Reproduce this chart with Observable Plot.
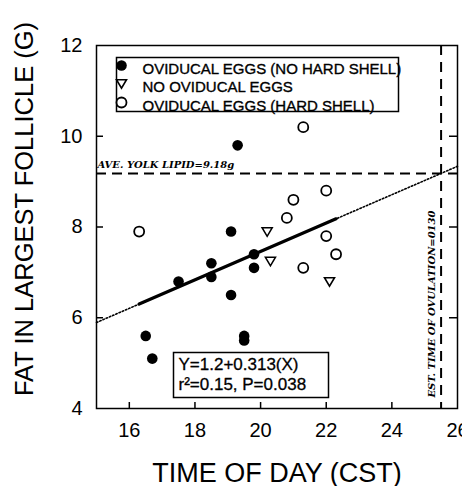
<!DOCTYPE html>
<html><head><meta charset="utf-8">
<script src="https://cdn.jsdelivr.net/npm/d3@7"></script>
<script src="https://cdn.jsdelivr.net/npm/@observablehq/plot@0.6"></script>
<style>html,body{margin:0;padding:0;overflow:hidden;background:#fff}</style>
</head><body><div id="chart"></div>
<script>
// Oviducal eggs (no hard shell) — filled circles
const noShellTime = [19.3, 19.1, 17.5, 18.5, 18.5, 19.1, 16.5, 16.7, 19.5, 19.5, 19.8, 19.8];
const noShellFat  = [9.8, 7.9, 6.8, 7.2, 6.9, 6.5, 5.6, 5.1, 5.6, 5.5, 7.4, 7.1];
// No oviducal eggs — open down-triangles
const noEggsTime = [20.2, 20.3, 22.1];
const noEggsFat  = [7.9, 7.25, 6.8];
// Oviducal eggs (hard shell) — open circles
const hardShellTime = [16.3, 21.3, 22.0, 21.0, 20.8, 22.0, 22.3, 21.3];
const hardShellFat  = [7.9, 10.2, 8.8, 8.6, 8.2, 7.8, 7.4, 7.1];

const legendLabels = ["OVIDUCAL EGGS (NO HARD SHELL)", "NO OVIDUCAL EGGS", "OVIDUCAL EGGS (HARD SHELL)"];
const equationLines = ["Y=1.2+0.313(X)", "r²=0.15, P=0.038"];
const intercept = 1.2, slope = 0.313;
const fitRange = [16.3, 22.3];   // solid part (data range)
const extRange = [15, 26];       // dotted extension
const yolkLipid = [9.18];
const ovulationTime = [25.5];
const xTicks = [16, 18, 20, 22, 24, 26];
const xTickMarks = [16, 18, 20, 22, 24];
const yTicks = [4, 6, 8, 10, 12];
const yTickMarks = [6, 8, 10];

const zip = (xs, ys) => xs.map((x, i) => ({x, y: ys[i]}));
const noShell = zip(noShellTime, noShellFat);
const noEggs = zip(noEggsTime, noEggsFat);
const hardShell = zip(hardShellTime, hardShellFat);
const fitLine = fitRange.map(x => ({x, y: intercept + slope * x}));
const extLine = extRange.map(x => ({x, y: intercept + slope * x}));

const downTriangle = {
  draw(context, size) {
    const s = Math.sqrt(size / Math.PI);
    context.moveTo(-s, -0.75 * s);
    context.lineTo(s, -0.75 * s);
    context.lineTo(0, 0.95 * s);
    context.closePath();
  }
};

const ML = 96, MR = 5, MT = 45, MB = 78, W = 462, H = 486;
const PW = W - ML - MR, PH = H - MT - MB;
const sans = "'Liberation Sans', Arial, Helvetica, sans-serif";
const serif = "'DejaVu Serif', 'Liberation Serif', serif";

const chart = Plot.plot({
  width: W, height: H,
  marginLeft: ML, marginRight: MR, marginTop: MT, marginBottom: MB,
  x: {domain: [15, 26]},
  y: {domain: [4, 12]},
  style: {fontFamily: sans, background: "white", color: "black", overflow: "visible"},
  marks: [
    // axes labels (tick labels only)
    Plot.axisX(xTicks, {tickSize: 0, tickPadding: 14, fontSize: 20, label: null}),
    Plot.axisY(yTicks, {tickSize: 0, tickPadding: 14, fontSize: 20, label: null}),
    // inward ticks
    Plot.ruleX(xTickMarks, {insetTop: PH - 6, strokeWidth: 1.5}),
    Plot.ruleY(yTickMarks, {insetRight: PW - 7, strokeWidth: 1.5}),
    Plot.ruleY(yTickMarks, {insetLeft: PW - 8, strokeWidth: 1.5}),
    // reference lines
    Plot.ruleY(yolkLipid, {strokeWidth: 2, strokeDasharray: "10,6"}),
    Plot.ruleX(ovulationTime, {strokeWidth: 2, strokeDasharray: "10,7"}),
    Plot.text(yolkLipid, {x: () => 15, y: d => d, text: d => `AVE. YOLK LIPID=${d}g`, textAnchor: "start", lineAnchor: "bottom", dx: 1, dy: -5, fontSize: 10, fontWeight: "bold", fontStyle: "italic", fontFamily: serif}),
    Plot.text(ovulationTime, {x: d => d, y: () => 4, text: () => "EST. TIME OF OVULATION=0130", rotate: -90, textAnchor: "start", lineAnchor: "bottom", dx: -6, dy: -11, fontSize: 10, fontWeight: "bold", fontStyle: "italic", fontFamily: serif}),
    // regression
    Plot.line(extLine, {x: "x", y: "y", strokeWidth: 1.6, strokeDasharray: "1.5,2"}),
    Plot.line(fitLine, {x: "x", y: "y", strokeWidth: 3.2}),
    // data
    Plot.dot(hardShell, {x: "x", y: "y", r: 5, symbol: "circle", stroke: "black", strokeWidth: 1.8, fill: "white"}),
    Plot.dot(noEggs, {x: "x", y: "y", r: 5, symbol: downTriangle, stroke: "black", strokeWidth: 1.6, fill: "white"}),
    Plot.dot(noShell, {x: "x", y: "y", r: 5.3, symbol: "circle", fill: "black", stroke: null}),
    // legend box
    Plot.frame({insetLeft: 20, insetTop: 12, insetRight: 59, insetBottom: 297, stroke: "black", strokeWidth: 1.5, fill: "white"}),
    Plot.dot([legendLabels[0]], {frameAnchor: "top-left", dx: 25, dy: 20, r: 5.3, symbol: "circle", fill: "black", stroke: null}),
    Plot.dot([legendLabels[1]], {frameAnchor: "top-left", dx: 25, dy: 38, r: 5, symbol: downTriangle, stroke: "black", strokeWidth: 1.6, fill: "white"}),
    Plot.dot([legendLabels[2]], {frameAnchor: "top-left", dx: 25, dy: 57, r: 5, symbol: "circle", stroke: "black", strokeWidth: 1.8, fill: "white"}),
    Plot.text([legendLabels.join("\n")], {frameAnchor: "top-left", textAnchor: "start", lineAnchor: "top", dx: 46, dy: 15, fontSize: 15, lineHeight: 1.24, fill: "black", stroke: "black", strokeWidth: 0.35}),
    // equation box
    Plot.frame({insetLeft: 77, insetTop: 307, insetRight: 129, insetBottom: 11, stroke: "black", strokeWidth: 1.5, fill: "white"}),
    Plot.text([equationLines.join("\n")], {frameAnchor: "bottom-left", textAnchor: "start", lineAnchor: "bottom", dx: 82, dy: -19, fontSize: 17, lineHeight: 1.12, fill: "black", stroke: "black", strokeWidth: 0.3}),
    // axis titles
    Plot.text(["TIME OF DAY (CST)"], {frameAnchor: "bottom", textAnchor: "middle", lineAnchor: "bottom", dy: 73, fontSize: 27}),
    Plot.text(["FAT IN LARGEST FOLLICLE (G)"], {frameAnchor: "left", rotate: -90, textAnchor: "middle", lineAnchor: "middle", dx: -72, dy: -18, fontSize: 25.5}),
    Plot.frame({strokeWidth: 1.5})
  ]
});
document.getElementById("chart").append(chart);
</script>
</body></html>
